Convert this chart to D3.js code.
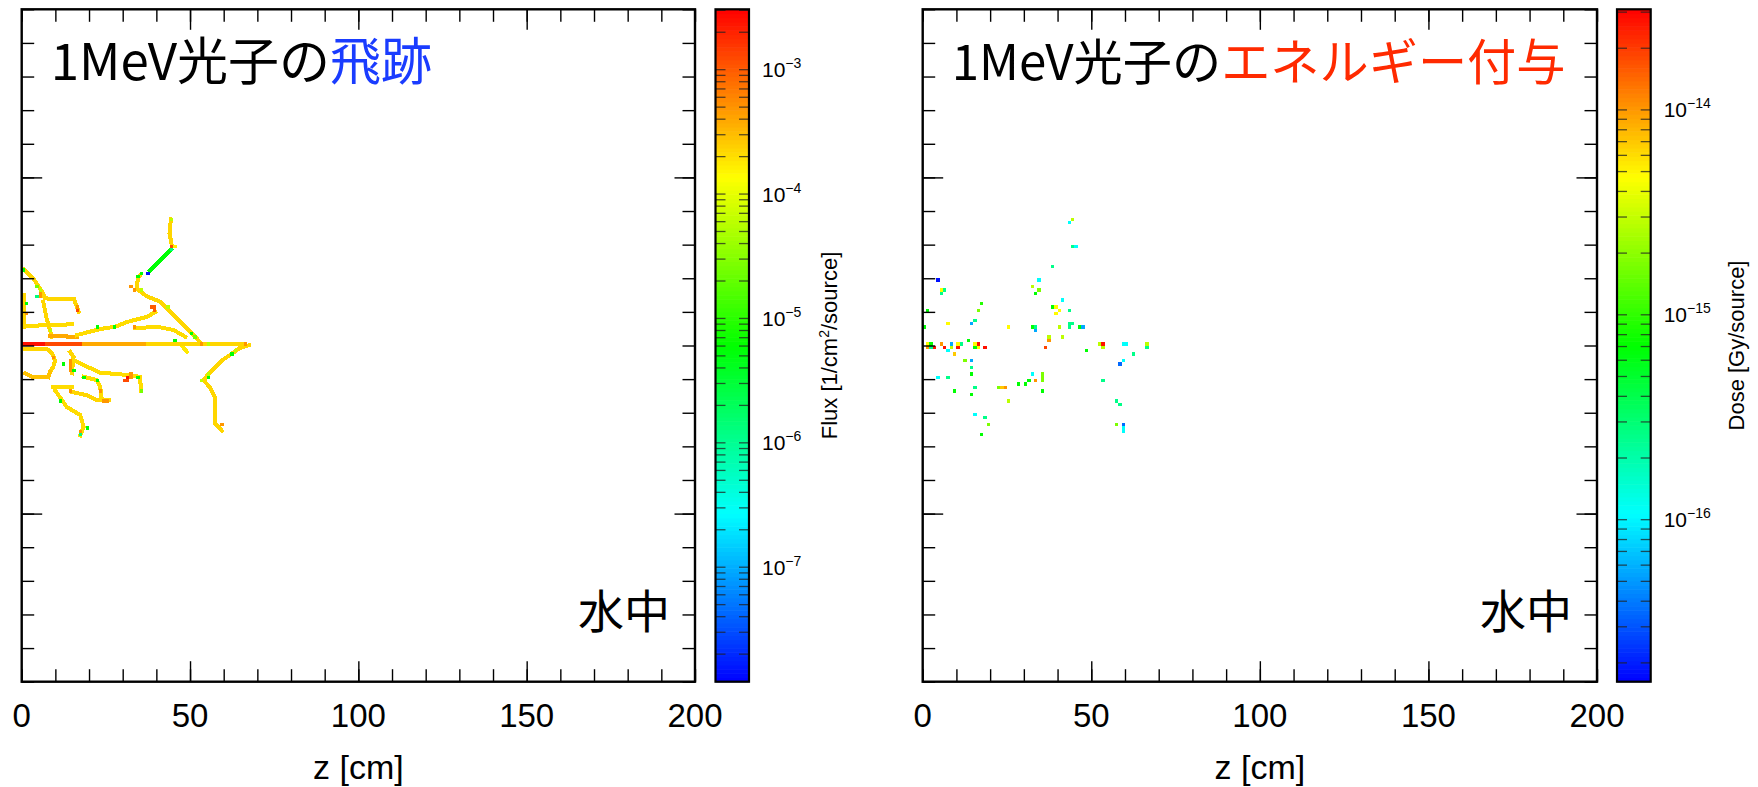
<!DOCTYPE html>
<html>
<head>
<meta charset="utf-8">
<script src="https://cdn.jsdelivr.net/npm/d3@7"></script>
<style>
  body { margin: 0; background: #fff; }
  svg { display: block; }
</style>
</head>
<body>
<script>
// PHITS style maps: photon track flux (left) and deposited dose (right)

var W = 1758, H = 787;

// axis ranges (cm) and colour bar ranges
var zDomain = [0, 200];
var yDomain = [-100, 100];
var zTickLabels = [0, 50, 100, 150, 200];
var fluxRange = [1.19e-8, 3.03e-3];
var doseRange = [1.61e-17, 3.08e-14];

// primary beam along y bin 0: [zStart, zEnd, flux]
var beamRuns = [
  [0, 7, 2.5e-3],
  [7, 18, 1.2e-3],
  [18, 37, 3.8e-4],
  [37, 67, 2.3e-4]
];

// scattered photon tracks, vertices [z, y] in cm
var trackPaths = [
  [[44.3, 37.5], [43.9, 33.3], [44.6, 29.7]],
  [[44.4, 28.6], [38.1, 22.3]],
  [[35.4, 21.2], [34.5, 20.2], [34.2, 16.8], [37.2, 14.6], [41.2, 13.0], [45.6, 8.5], [51.6, 2.6], [53.0, 0.8]],
  [[0.7, 22.6], [3.5, 19.9], [6.4, 15.5], [6.9, 14.0], [15.6, 13.7], [15.9, 12.8], [16.9, 10.0]],
  [[0.7, 15.0], [0.7, 5.6]],
  [[1.0, 5.8], [14.9, 6.3]],
  [[6.4, 13.0], [7.4, 8.0], [8.4, 4.6], [8.9, 2.6]],
  [[8.4, 2.8], [16.4, 2.6]],
  [[16.4, 3.1], [23.3, 4.9], [27.8, 5.6], [31.3, 7.0], [37.2, 8.5], [39.7, 10.0]],
  [[33.7, 5.1], [40.2, 5.6], [45.1, 4.6], [48.6, 2.6]],
  [[1.0, -0.9], [7.4, -0.9], [9.0, -2.4], [9.9, -4.4], [9.4, -6.3], [8.4, -7.8]],
  [[14.4, -1.9], [15.4, -3.4], [14.9, -8.3]],
  [[15.4, -4.4], [23.3, -8.1], [28.8, -8.5], [35.2, -9.3], [35.4, -13.5]],
  [[1.0, -8.3], [3.0, -9.3], [7.9, -9.5], [8.4, -7.8]],
  [[9.4, -12.3], [14.9, -12.3]],
  [[9.9, -13.3], [13.4, -18.3], [17.4, -20.7], [18.4, -24.2], [17.4, -26.7]],
  [[14.9, -13.8], [19.3, -14.8], [22.3, -16.3], [25.8, -16.3]],
  [[18.4, -9.3], [22.3, -10.3], [23.3, -12.3], [23.8, -16.3]],
  [[67.5, 0.1], [64.5, -0.9], [62.5, -2.4], [59.5, -4.4], [55.6, -8.3], [54.1, -10.3], [56.1, -12.8], [57.5, -15.8], [57.5, -23.2], [59.5, -25.4]],
  [[47.6, -0.1], [49.1, -1.9]]
];
var trackFlux = [2.3e-4, 6e-6, 2.3e-4, 2.3e-4, 2.3e-4, 2.0e-4, 2.3e-4, 4.0e-4, 2.0e-4, 2.0e-4,
                 2.3e-4, 2.3e-4, 2.0e-4, 2.8e-4, 2.0e-4, 2.0e-4, 2.3e-4, 2.0e-4, 2.3e-4, 1.8e-4];

// single bins of other flux: [zBin, yBin, flux]
var fluxSpots = [
  [44, 37, 6e-5], [44, 29, 1.2e-3], [45, 29, 1.7e-4], [44, 28, 1.3e-6],
  [37, 21, 1.5e-8], [35, 21, 6e-6], [34, 20, 6e-6],
  [32, 17, 5e-4], [33, 16, 5e-4], [35, 16, 6e-5],
  [38, 11, 1e-3], [39, 11, 1e-3], [39, 10, 1e-3], [43, 11, 6e-5],
  [50, 3, 6e-6], [51, 2, 2.5e-5], [45, 1, 6e-6],
  [53, 0, 5e-4], [55, 0, 6e-5], [66, 0, 5e-4],
  [33, 5, 5e-4], [22, 5, 6e-6], [27, 5, 6e-6],
  [16, 10, 1.2e-3], [16, 11, 5e-4],
  [5, 15, 5e-4], [5, 14, 5e-4], [4, 14, 1.3e-6], [5, 16, 6e-5], [1, 12, 6e-6], [4, 17, 2.5e-5],
  [8, 4, 6e-5], [1, 9, 5e-4], [0, 22, 6e-6],
  [9, -4, 5e-4], [12, -6, 6e-6],
  [14, -5, 5e-4], [14, -6, 5e-4], [14, -7, 5e-4], [14, -8, 5e-4], [15, -8, 6e-6],
  [18, -10, 6e-6], [22, -11, 6e-6],
  [31, -10, 2.5e-3], [30, -11, 1.2e-3], [32, -10, 5e-4], [31, -11, 1.2e-3], [32, -9, 5e-4],
  [34, -10, 6e-6], [35, -14, 2.5e-5], [11, -17, 6e-6],
  [17, -26, 5e-4], [19, -25, 6e-6], [17, -27, 1.3e-6],
  [23, -14, 5e-4], [24, -17, 5e-4], [25, -17, 5e-4], [14, -14, 5e-4],
  [55, -9, 6e-5], [55, -10, 6e-6], [62, -3, 6e-6], [63, -2, 6e-5], [59, -24, 5e-4], [53, -11, 6e-5]
];

// deposited dose bins: [zBin, yBin, dose]
var doseBins = [
  [44, 37, 2.9e-15], [43, 36, 1.1e-16], [44, 29, 2.5e-16], [45, 29, 1.1e-16], [38, 23, 2.5e-16], [4, 19, 1.8e-17], [34, 19, 1.1e-16],
  [5, 16, 4.7e-15], [6, 16, 2.5e-16], [5, 15, 2.5e-16], [32, 17, 2.9e-15], [34, 16, 1.8e-15], [33, 15, 7e-16],
  [17, 12, 9e-16], [16, 10, 1.8e-15], [41, 13, 1.1e-16], [1, 10, 7e-16],
  [38, 11, 7e-16], [39, 11, 4.7e-15], [40, 10, 4.7e-15], [39, 9, 4.7e-15], [43, 10, 2.5e-16],
  [15, 7, 2.5e-16], [14, 6, 5.7e-17], [7, 6, 4.7e-15],
  [0, 5, 7e-16], [25, 5, 4.7e-15], [32, 5, 7e-16], [33, 5, 2.5e-16], [33, 4, 5.7e-17], [40, 5, 2.9e-15],
  [43, 6, 2.5e-16], [43, 5, 2.5e-16], [44, 6, 2.5e-16], [46, 5, 7e-16], [47, 5, 5.7e-17],
  [37, 2, 2.9e-15], [37, 1, 1e-14], [41, 2, 2.9e-15], [13, 1, 7e-16],
  [1, 0, 4.7e-15], [2, 0, 7e-16], [5, 0, 1e-14], [8, 0, 5.7e-17], [10, 0, 4.7e-15], [11, 0, 2.5e-16], [15, 0, 4.7e-15],
  [16, 0, 2.8e-14], [52, 0, 2.9e-15], [53, 0, 2.8e-14], [59, 0, 1.1e-16], [60, 0, 1.1e-16], [66, 0, 2.9e-15],
  [1, -1, 1e-14], [2, -1, 2.5e-16], [3, -1, 2.8e-14], [6, -1, 2.8e-14], [8, -1, 2.9e-15], [10, -1, 2.8e-14],
  [15, -1, 7e-16], [16, -1, 4.7e-15], [18, -1, 2.8e-14], [36, -1, 1.9e-14], [53, -1, 2.9e-15], [66, -1, 2.5e-16],
  [7, -2, 1.1e-16], [9, -3, 7e-15], [48, -2, 7e-16], [62, -3, 2.5e-16],
  [12, -5, 1.8e-15], [14, -5, 5.7e-17], [14, -7, 2.5e-16], [58, -6, 3.5e-17], [59, -5, 1.1e-16],
  [14, -9, 7e-16], [4, -10, 1.1e-16], [7, -10, 2.5e-16], [32, -9, 1.1e-16], [35, -9, 1.8e-15], [35, -10, 1.8e-15],
  [35, -11, 1.8e-15], [31, -11, 7e-16], [33, -11, 1e-14], [53, -11, 2.5e-16],
  [15, -13, 2.5e-16], [22, -13, 1.8e-15], [23, -13, 7e-15], [24, -13, 1e-14], [28, -12, 7e-16], [30, -12, 7e-16],
  [9, -14, 7e-16], [14, -15, 7e-16], [35, -14, 7e-16],
  [25, -17, 2.9e-15], [57, -17, 2.5e-16], [58, -18, 2.5e-16],
  [15, -21, 1.1e-16], [18, -22, 2.5e-16], [19, -24, 1.8e-15], [17, -27, 7e-16],
  [57, -24, 1.8e-15], [59, -24, 3.5e-17], [59, -25, 1.1e-16], [59, -26, 1.1e-16]
];

// layout
var plotTop = 9.3, plotBottom = 681.7;
var nLevels = 160;
var numFont = "'Liberation Sans', Helvetica, Arial, sans-serif";
var jpFont = "'Noto Sans CJK JP', 'Noto Sans', sans-serif";

var svg = d3.select("body").append("svg")
  .attr("width", W)
  .attr("height", H);

// rainbow palette: blue (low) to red (high), log scale, discrete levels
function makeColor(range) {
  var lo = Math.log10(range[0]), hi = Math.log10(range[1]);
  return function (v) {
    var f = (Math.log10(v) - lo) / (hi - lo);
    f = Math.max(0, Math.min(0.9999, f));
    var q = (Math.floor(f * nLevels) + 0.5) / nLevels;
    return d3.hsl(240 * (1 - q), 1, 0.5) + "";
  };
}

function drawPanel(o) {
  var x = d3.scaleLinear().domain(zDomain).range([o.left, o.right]);
  var y = d3.scaleLinear().domain(yDomain).range([plotBottom, plotTop]);
  var c = d3.scaleLog().domain(o.range).range([plotBottom, plotTop]);
  var color = makeColor(o.range);
  var g = svg.append("g");

  g.append("clipPath").attr("id", o.id + "-clip")
    .append("rect")
    .attr("x", o.left).attr("y", plotTop)
    .attr("width", o.right - o.left).attr("height", plotBottom - plotTop);

  var plot = g.append("g").attr("clip-path", "url(#" + o.id + "-clip)");
  o.draw(plot, x, y, color);

  // frame ticks, pointing inwards on all four sides
  var minorZ = d3.range(0, 201, 10), majorZ = [50, 100, 150];
  var minorY = d3.range(-100, 101, 10), majorY = [-50, 50];
  var tickAxes = [
    [d3.axisTop(x), "translate(0," + plotBottom + ")", minorZ, majorZ],
    [d3.axisBottom(x), "translate(0," + plotTop + ")", minorZ, majorZ],
    [d3.axisRight(y), "translate(" + o.left + ",0)", minorY, majorY],
    [d3.axisLeft(y), "translate(" + o.right + ",0)", minorY, majorY]
  ];
  tickAxes.forEach(function (t) {
    [[t[2], 12.5], [t[3], 20.5]].forEach(function (set) {
      var ax = g.append("g").attr("transform", t[1])
        .call(t[0].tickValues(set[0]).tickSize(set[1]).tickFormat(""));
      ax.select(".domain").remove();
      ax.selectAll("line").attr("stroke", "#000").attr("stroke-width", 1.4);
    });
  });

  g.append("rect")
    .attr("x", o.left).attr("y", plotTop)
    .attr("width", o.right - o.left).attr("height", plotBottom - plotTop)
    .attr("fill", "none").attr("stroke", "#000").attr("stroke-width", 2.4);

  // z tick labels and axis title
  g.selectAll("text.zlab").data(zTickLabels).enter().append("text")
    .attr("class", "zlab")
    .attr("x", function (d) { return x(d); })
    .attr("y", 726.5)
    .attr("text-anchor", "middle")
    .attr("font-family", numFont).attr("font-size", 33)
    .text(function (d) { return d; });

  g.append("text")
    .attr("x", x(100)).attr("y", 779)
    .attr("text-anchor", "middle")
    .attr("font-family", numFont).attr("font-size", 34)
    .text("z [cm]");

  // titles
  var title = g.append("text")
    .attr("x", o.left + 29).attr("y", 80)
    .attr("font-family", jpFont).attr("font-size", o.titleSize);
  title.append("tspan").attr("fill", "#000").text("1MeV光子の");
  title.append("tspan").attr("fill", o.titleColor).text(o.titleKey);

  g.append("text")
    .attr("x", o.right - 25).attr("y", 628)
    .attr("text-anchor", "end")
    .attr("font-family", jpFont).attr("font-size", 46)
    .text("水中");

  // colour bar
  var lo = Math.log10(o.range[0]), hi = Math.log10(o.range[1]);
  var levels = d3.range(nLevels).map(function (i) {
    return [Math.pow(10, lo + (hi - lo) * i / nLevels), Math.pow(10, lo + (hi - lo) * (i + 1) / nLevels)];
  });
  var cb = g.append("g");
  cb.selectAll("rect.lev").data(levels).enter().append("rect")
    .attr("x", o.cbLeft)
    .attr("y", function (d) { return c(d[1]); })
    .attr("width", o.cbRight - o.cbLeft)
    .attr("height", function (d) { return c(d[0]) - c(d[1]) + 0.6; })
    .attr("fill", function (d) { return color(Math.sqrt(d[0] * d[1])); });

  var cbTicks = c.ticks().filter(function (v) { return v >= o.range[0] && v <= o.range[1]; });
  [[d3.axisLeft(c), o.cbRight], [d3.axisRight(c), o.cbLeft]].forEach(function (t) {
    var ax = cb.append("g").attr("transform", "translate(" + t[1] + ",0)")
      .call(t[0].tickValues(cbTicks).tickSize(10).tickFormat(""));
    ax.select(".domain").remove();
    ax.selectAll("line").attr("stroke", "#222").attr("stroke-opacity", 0.75).attr("stroke-width", 1.3);
  });

  cb.append("rect")
    .attr("x", o.cbLeft).attr("y", plotTop)
    .attr("width", o.cbRight - o.cbLeft).attr("height", plotBottom - plotTop)
    .attr("fill", "none").attr("stroke", "#000").attr("stroke-width", 2.2);

  var labs = cb.selectAll("text.dec").data(o.decades).enter().append("text")
    .attr("class", "dec")
    .attr("x", o.cbRight + 13)
    .attr("y", function (d) { return c(Math.pow(10, d)) + 8; })
    .attr("font-family", numFont).attr("font-size", 21);
  labs.append("tspan").text("10");
  labs.append("tspan").attr("dy", -9).attr("font-size", 14)
    .text(function (d) { return "\u2212" + Math.abs(d); });

  var tt = cb.append("text")
    .attr("transform", "translate(" + (o.cbRight + o.titleGap) + "," + ((plotTop + plotBottom) / 2) + ") rotate(-90)")
    .attr("text-anchor", "middle")
    .attr("font-family", numFont).attr("font-size", 22);
  o.cbTitle(tt);
}

function cell(sel, x, y, color) {
  sel.attr("x", function (d) { return x(d[0]); })
    .attr("y", function (d) { return y(d[1] + 1); })
    .attr("width", function (d) { return x(d[0] + 1) - x(d[0]); })
    .attr("height", function (d) { return y(d[1]) - y(d[1] + 1); })
    .attr("fill", function (d) { return color(d[2]); })
    .attr("shape-rendering", "crispEdges");
}

drawPanel({
  id: "flux",
  left: 21.7, right: 695, cbLeft: 715.5, cbRight: 749,
  range: fluxRange, decades: [-7, -6, -5, -4, -3],
  titleKey: "飛跡", titleColor: "#1a3cff", titleGap: 88, titleSize: 51,
  cbTitle: function (t) {
    t.append("tspan").text("Flux [1/cm");
    t.append("tspan").attr("dy", -8).attr("font-size", 14).text("2");
    t.append("tspan").attr("dy", 8).text("/source]");
  },
  draw: function (plot, x, y, color) {
    var line = d3.line().x(function (d) { return x(d[0]); }).y(function (d) { return y(d[1]); });
    var cellW = x(1) - x(0);
    plot.selectAll("path.track").data(trackPaths).enter().append("path")
      .attr("class", "track")
      .attr("d", line)
      .attr("fill", "none")
      .attr("stroke", function (d, i) { return color(trackFlux[i]); })
      .attr("stroke-width", cellW * 1.2)
      .attr("stroke-linecap", "square")
      .attr("stroke-linejoin", "miter")
      .attr("shape-rendering", "crispEdges");
    plot.selectAll("rect.beam").data(beamRuns).enter().append("rect")
      .attr("class", "beam")
      .attr("x", function (d) { return x(d[0]); })
      .attr("y", y(1))
      .attr("width", function (d) { return x(d[1]) - x(d[0]); })
      .attr("height", y(0) - y(1))
      .attr("fill", function (d) { return color(d[2]); })
      .attr("shape-rendering", "crispEdges");
    plot.selectAll("rect.spot").data(fluxSpots).enter().append("rect")
      .attr("class", "spot")
      .call(cell, x, y, color);
  }
});

drawPanel({
  id: "dose",
  left: 922.7, right: 1597, cbLeft: 1617, cbRight: 1650.7,
  range: doseRange, decades: [-16, -15, -14],
  titleKey: "エネルギー付与", titleColor: "#ff2a00", titleGap: 93, titleSize: 49.2,
  cbTitle: function (t) { t.text("Dose [Gy/source]"); },
  draw: function (plot, x, y, color) {
    plot.selectAll("rect.dose").data(doseBins).enter().append("rect")
      .attr("class", "dose")
      .call(cell, x, y, color);
  }
});
</script>
</body>
</html>
